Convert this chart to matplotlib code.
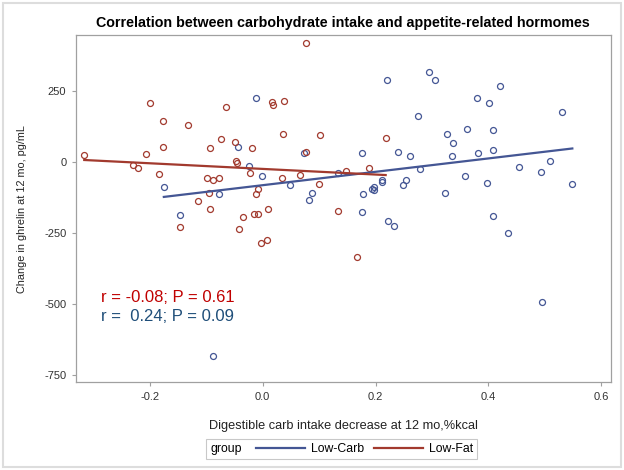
import numpy as np
import matplotlib
matplotlib.use("Agg")
import matplotlib.pyplot as plt
from matplotlib.lines import Line2D
from matplotlib.patches import Rectangle
from matplotlib.offsetbox import HPacker

plt.rcParams['font.family'] = ['Liberation Sans', 'DejaVu Sans']
plt.rcParams['axes.unicode_minus'] = False

# Low-Carb group: carb decrease (%kcal) vs change in ghrelin (pg/mL)
lc_x = [-0.011, -0.044, -0.024, -0.001, -0.175, -0.077, -0.146, -0.088, 0.073,
        0.220, 0.294, 0.306, 0.276, 0.326, 0.176, 0.239, 0.261, 0.278, 0.134,
        0.049, 0.2115, 0.211, 0.254, 0.249, 0.193, 0.198, 0.198, 0.0875, 0.178,
        0.083, 0.324, 0.176, 0.2216, 0.233, 0.4205, 0.380, 0.4016, 0.530, 0.3627,
        0.4087, 0.338, 0.336, 0.381, 0.409, 0.5097, 0.454, 0.4926, 0.359, 0.398,
        0.5487, 0.4087, 0.435, 0.4955]
lc_y = [228, 54, -13, -48, -88, -113, -186, -684, 34,
        289, 320, 289, 163, 99, 33, 36, 22, -25, -39,
        -82, -61, -69, -64, -80, -93, -86, -98, -110, -111,
        -133, -107, -175, -208, -226, 269, 228, 208, 176, 116,
        113, 67, 23, 33, 43, 6, -18, -35, -48, -73,
        -77, -190, -251, -493]

# Low-Fat group
lf_x = [-0.316, -0.200, -0.065, -0.176, -0.133, -0.073, -0.049, -0.177, -0.094,
        -0.019, -0.206, -0.048, -0.046, -0.229, -0.220, -0.022, -0.183, -0.099,
        -0.088, -0.078, -0.008, -0.012, -0.095, -0.114, -0.093, 0.077, 0.016,
        0.019, 0.038, 0.037, 0.102, 0.218, 0.076, 0.188, 0.147, 0.066, 0.035,
        0.100, -0.015, -0.008, 0.0096, -0.003, 0.0078, 0.134, 0.167, -0.146,
        -0.042, -0.034]
lf_y = [27, 208, 194, 147, 133, 81, 72, 54, 50,
        50, 29, 6, -1, -11, -20, -37, -42, -55,
        -62, -55, -93, -111, -107, -138, -165, 420, 213,
        201, 215, 99, 95, 85, 36, -21, -32, -45, -55,
        -77, -181, -181, -165, -285, -274, -172, -335, -227,
        -237, -195]

x_ticks = [-0.2, 0.0, 0.2, 0.4, 0.6]
x_ticklabels = ['-0.2', '0.0', '0.2', '0.4', '0.6']
y_ticks = [-750, -500, -250, 0, 250]

stats_lf = 'r = -0.08; P = 0.61'
stats_lc = 'r =  0.24; P = 0.09'

BLUE = '#445694'
RED = '#A23A2E'

fig = plt.figure(figsize=(6.24, 4.70), dpi=100)
ax = fig.add_axes([0.1218, 0.1866, 0.8569, 0.7389])

for xs, ys, col in [(lc_x, lc_y, BLUE), (lf_x, lf_y, RED)]:
    ax.plot(xs, ys, 'o', ls='none', mfc='none', mec=col, ms=4.3, mew=0.9)

# linear fits over each group's range
for xs, ys, col in [(lc_x, lc_y, BLUE), (lf_x, lf_y, RED)]:
    k, b = np.polyfit(xs, ys, 1)
    xx = np.array([min(xs), max(xs)])
    ax.plot(xx, k * xx + b, color=col, lw=1.6)

ax.set_xlim(-0.3306, 0.6167)
ax.set_ylim(-776.6, 449)
ax.set_xticks(x_ticks)
ax.set_xticklabels(x_ticklabels)
ax.set_yticks(y_ticks)
for s in ax.spines.values():
    s.set_color('#a0a0a0')
    s.set_linewidth(0.9)
ax.tick_params(colors='#a0a0a0', labelcolor='#333333', labelsize=8, length=3, width=0.8, pad=4)

ax.set_xlabel('Digestible carb intake decrease at 12 mo,%kcal', fontsize=9.2, color='#222222', labelpad=13)
ax.set_ylabel('Change in ghrelin at 12 mo, pg/mL', fontsize=7.8, color='#222222', labelpad=12.5)
ax.set_title('Correlation between carbohydrate intake and appetite-related hormomes',
             fontsize=10.3, fontweight='bold', pad=6)

ax.text(0.047, 0.2456, stats_lf, transform=ax.transAxes, color='#C00000', fontsize=12, va='center')
ax.text(0.047, 0.189, stats_lc, transform=ax.transAxes, color='#1F4E79', fontsize=12, va='center')

handles = [Line2D([], [], color=BLUE, lw=1.6), Line2D([], [], color=RED, lw=1.6)]
leg = fig.legend(handles, ['Low-Carb', 'Low-Fat'], title='group', ncol=2,
                 loc='center', bbox_to_anchor=(0.548, 0.0447), fontsize=8.8,
                 title_fontsize=8.8, handlelength=4.0, handletextpad=0.5,
                 columnspacing=0.8, borderpad=0.12, fancybox=False)
leg.get_frame().set_edgecolor('#bbbbbb')
leg.get_frame().set_linewidth(0.8)
# put the "group" title to the left of the entries
leg._legend_box = HPacker(pad=0.25 * 8.8 * 100 / 72, sep=10, align='center',
                          children=[leg._legend_title_box, leg._legend_handle_box])
leg._legend_box.set_figure(fig)
leg._legend_box.set_offset(leg._findoffset)

fig.patches.append(Rectangle((3 / 624, 3 / 470), 618 / 624, 464 / 470, transform=fig.transFigure,
                             fill=False, edgecolor='#dddddd', lw=1.5))

fig.savefig('out.png', dpi=100)
